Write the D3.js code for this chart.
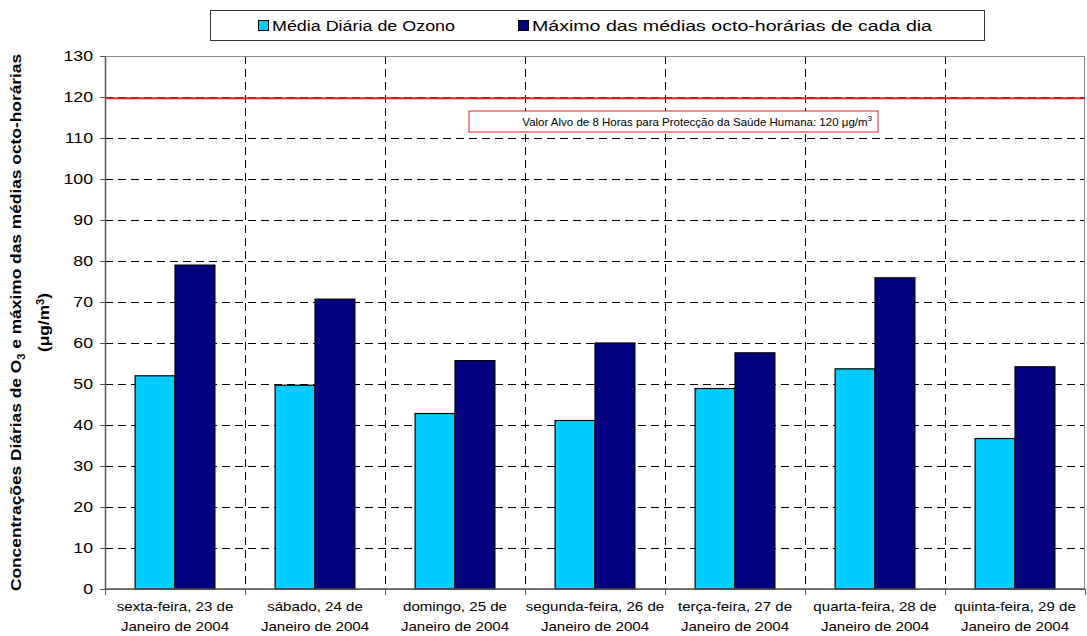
<!DOCTYPE html>
<html>
<head>
<meta charset="utf-8">
<script src="https://cdn.jsdelivr.net/npm/d3@7"></script>
<style>
  body { margin: 0; background: #fff; }
  svg { font-family: Arial, "Liberation Sans", sans-serif; }
  .grid line { stroke: #000; stroke-dasharray: 8,5; stroke-width: 1; }
  .axis path, .axis line { stroke: #555; }
  .axis text { fill: #000; }
</style>
</head>
<body>
<svg id="chart" width="1087" height="636"></svg>
<script>
// dias (duas linhas por etiqueta)
var days = [
  ["sexta-feira, 23 de", "Janeiro de 2004"],
  ["sábado, 24 de", "Janeiro de 2004"],
  ["domingo, 25 de", "Janeiro de 2004"],
  ["segunda-feira, 26 de", "Janeiro de 2004"],
  ["terça-feira, 27 de", "Janeiro de 2004"],
  ["quarta-feira, 28 de", "Janeiro de 2004"],
  ["quinta-feira, 29 de", "Janeiro de 2004"]
];
var mediaDiaria = [52.0, 49.7, 42.8, 41.1, 48.9, 53.7, 36.7];
var maximoOcto = [79.0, 70.7, 55.7, 60.0, 57.6, 75.9, 54.2];
var seriesNames = ["Média Diária de Ozono", "Máximo das médias octo-horárias de cada dia"];
var yTicks = [0, 10, 20, 30, 40, 50, 60, 70, 80, 90, 100, 110, 120, 130];
var valorAlvo = 119.7;

// o original tem o texto um pouco esticado na horizontal
var stretch = 1.18;

var svg = d3.select("#chart"),
    margin = {top: 56, right: 2, bottom: 47, left: 105},
    width = 1087 - margin.left - margin.right,
    height = 636 - margin.top - margin.bottom;

var g = svg.append("g").attr("transform", "translate(" + margin.left + "," + margin.top + ")");

var x = d3.scaleBand().domain(d3.range(days.length)).range([0, width]).paddingInner(0).paddingOuter(0);
var x1 = d3.scaleBand().domain([0, 1]).range([x.bandwidth() * 0.215, x.bandwidth() * 0.785]);
var y = d3.scaleLinear().domain([0, 130]).range([height, 0]);
var colors = ["#00CCFF", "#000080"];

// grelha horizontal
g.append("g").attr("class", "grid")
  .selectAll("line").data(yTicks.slice(1, -1)).enter().append("line")
  .attr("x1", 0).attr("x2", width)
  .attr("y1", function (d) { return y(d) + 0.5; })
  .attr("y2", function (d) { return y(d) + 0.5; });

// grelha vertical
g.append("g").attr("class", "grid")
  .selectAll("line").data(d3.range(1, days.length)).enter().append("line")
  .attr("x1", function (d) { return Math.round(d * x.bandwidth()) + 0.5; })
  .attr("x2", function (d) { return Math.round(d * x.bandwidth()) + 0.5; })
  .attr("y1", 0).attr("y2", height);

// borda da área do gráfico
g.append("rect").attr("x", 0.5).attr("y", 0.5).attr("width", width - 1).attr("height", height)
  .style("fill", "none").style("stroke", "#888");

// linha do valor alvo
g.append("line")
  .attr("x1", 0).attr("x2", width)
  .attr("y1", y(valorAlvo)).attr("y2", y(valorAlvo))
  .style("stroke", "#EE2222").style("stroke-width", 2);

var box = g.append("g").attr("transform", "translate(" + (469 - margin.left) + "," + (111 - margin.top) + ")");
box.append("rect").attr("width", 409).attr("height", 21)
  .style("fill", "#fff").style("stroke", "#E02020").style("stroke-width", 1);
var bt = box.append("text").attr("transform", "translate(403,15)")
  .attr("text-anchor", "end").style("font-size", "11.5px");
bt.append("tspan").text("Valor Alvo de 8 Horas para Protecção da Saúde Humana: 120 ");
bt.append("tspan").text("μg/m");
bt.append("tspan").attr("dy", -5).style("font-size", "8px").text("3");

// barras
var groups = g.selectAll(".day").data(days).enter().append("g")
  .attr("transform", function (d, i) { return "translate(" + x(i) + ",0)"; });

groups.selectAll("rect").data(function (d, i) { return [mediaDiaria[i], maximoOcto[i]]; })
  .enter().append("rect")
  .attr("x", function (d, j) { return x1(j); })
  .attr("width", x1.bandwidth())
  .attr("y", function (d) { return y(d); })
  .attr("height", function (d) { return height - y(d); })
  .style("fill", function (d, j) { return colors[j]; })
  .style("stroke", "#000").style("stroke-width", 1.2);

// eixos
var yAxis = g.append("g").attr("class", "axis")
  .call(d3.axisLeft(y).tickValues(yTicks).tickSize(5).tickSizeOuter(0).tickPadding(7));
yAxis.selectAll("text").style("font-size", "15px")
  .attr("transform", "scale(" + stretch + ",1)")
  .attr("x", -12 / stretch);
yAxis.select(".domain").style("stroke-width", 1.5);

var xAxis = g.append("g").attr("class", "axis").attr("transform", "translate(0," + height + ")");
xAxis.append("line").attr("x1", 0).attr("x2", width).style("stroke", "#555").style("stroke-width", 1.5);
xAxis.selectAll(".tick").data(d3.range(0, days.length + 1)).enter().append("line")
  .attr("x1", function (d) { return Math.round(d * x.bandwidth()) + 0.5; })
  .attr("x2", function (d) { return Math.round(d * x.bandwidth()) + 0.5; })
  .attr("y1", 0).attr("y2", 6);
xAxis.selectAll(".lbl").data(days).enter().append("text")
  .attr("transform", function (d, i) {
    return "translate(" + (x(i) + x.bandwidth() / 2) + ",22) scale(" + stretch + ",1)";
  })
  .attr("text-anchor", "middle").style("font-size", "12.8px")
  .each(function (d) {
    var t = d3.select(this);
    t.append("tspan").attr("x", 0).text(d[0]);
    t.append("tspan").attr("x", 0).attr("dy", 20).text(d[1]);
  });

// título do eixo y
var yt = svg.append("text")
  .attr("transform", "translate(21," + (margin.top + height / 2) + ") rotate(-90) scale(1.12,1)")
  .attr("text-anchor", "middle").style("font-size", "15.5px").style("font-weight", "bold");
yt.append("tspan").text("Concentrações Diárias de O");
yt.append("tspan").attr("dy", 4).style("font-size", "10px").text("3");
yt.append("tspan").attr("dy", -4).text(" e máximo das médias octo-horárias");
var yt2 = svg.append("text")
  .attr("transform", "translate(49," + (margin.top + height / 2) + ") rotate(-90) scale(1.12,1)")
  .attr("text-anchor", "middle").style("font-size", "15.5px").style("font-weight", "bold");
yt2.append("tspan").text("(μg/m");
yt2.append("tspan").attr("dy", -5).style("font-size", "10px").text("3");
yt2.append("tspan").attr("dy", 5).text(")");

// legenda
var leg = svg.append("g");
leg.append("rect").attr("x", 210.5).attr("y", 10.5).attr("width", 774).attr("height", 30)
  .style("fill", "#fff").style("stroke", "#333");
var legX = [258, 518];
var legLen = [183, 400];
seriesNames.forEach(function (name, i) {
  leg.append("rect").attr("x", legX[i] + 0.5).attr("y", 20.5).attr("width", 10).attr("height", 10)
    .style("fill", colors[i]).style("stroke", "#000");
  leg.append("text").attr("x", legX[i] + 14).attr("y", 31)
    .attr("textLength", legLen[i]).attr("lengthAdjust", "spacingAndGlyphs")
    .style("font-size", "15.5px").text(name);
});
</script>
</body>
</html>
